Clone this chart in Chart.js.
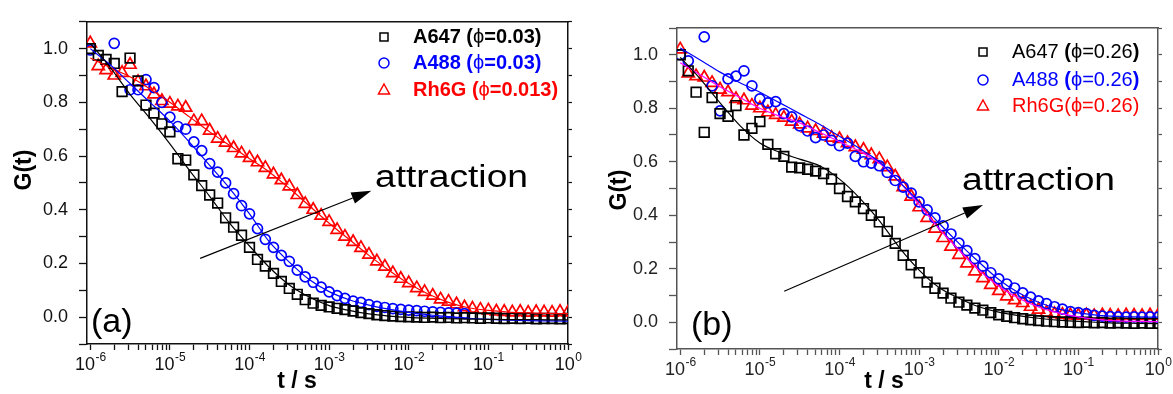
<!DOCTYPE html>
<html lang="en">
<head>
<meta charset="UTF-8">
<title>G(t) - FCS curves</title>
<script src="https://cdn.jsdelivr.net/npm/chart.js"></script>
<style>
  body { margin: 0; background: #fff; }
  #wrap { position: relative; width: 1173px; height: 394px; }
  canvas { position: absolute; top: 0; }
  #chartA { left: 0; }
  #chartB { left: 590px; }
</style>
</head>
<body>
<div id="wrap">
  <canvas id="chartA" width="590" height="394"></canvas>
  <canvas id="chartB" width="583" height="394"></canvas>
</div>
<script>
// lag times of the measured points (s), shared by both panels
const tPoints = [
  1.00e-6, 1.26e-6, 1.58e-6, 2.00e-6, 2.51e-6, 3.16e-6, 3.98e-6, 5.01e-6, 6.31e-6, 7.94e-6,
  1.00e-5, 1.26e-5, 1.58e-5, 2.00e-5, 2.51e-5, 3.16e-5, 3.98e-5, 5.01e-5, 6.31e-5, 7.94e-5,
  1.00e-4, 1.26e-4, 1.58e-4, 2.00e-4, 2.51e-4, 3.16e-4, 3.98e-4, 5.01e-4, 6.31e-4, 7.94e-4,
  1.00e-3, 1.26e-3, 1.58e-3, 2.00e-3, 2.51e-3, 3.16e-3, 3.98e-3, 5.01e-3, 6.31e-3, 7.94e-3,
  1.00e-2, 1.26e-2, 1.58e-2, 2.00e-2, 2.51e-2, 3.16e-2, 3.98e-2, 5.01e-2, 6.31e-2, 7.94e-2,
  1.00e-1, 1.26e-1, 1.58e-1, 2.00e-1, 2.51e-1, 3.16e-1, 3.98e-1, 5.01e-1, 6.31e-1, 7.94e-1,
  1.00
];
// lag times of the fitted curves (s)
const tFit = [
  1.00e-6, 1.78e-6, 3.16e-6, 5.62e-6, 1.00e-5, 1.78e-5, 3.16e-5, 5.62e-5,
  1.00e-4, 1.78e-4, 3.16e-4, 5.62e-4, 1.00e-3, 1.78e-3, 3.16e-3, 5.62e-3,
  1.00e-2, 1.78e-2, 3.16e-2, 5.62e-2, 1.00e-1, 1.78e-1, 3.16e-1, 5.62e-1, 1.00
];

// panel (a)
const a647A = [1.00, 0.975, 0.96, 0.945, 0.84, 0.965, 0.88, 0.79, 0.76, 0.72,
  0.69, 0.59, 0.585, 0.53, 0.49, 0.455, 0.425, 0.37, 0.335, 0.305,
  0.26, 0.215, 0.19, 0.163, 0.133, 0.107, 0.085, 0.065, 0.052, 0.044,
  0.038, 0.033, 0.028, 0.023, 0.017, 0.013, 0.009, 0.006, 0.004, 0.002,
  0.001, 0.0, -0.001, 0.0, -0.002, -0.001, -0.003, -0.002, -0.003, -0.004,
  -0.003, -0.004, -0.005, -0.004, -0.005, -0.004, -0.006, -0.005, -0.005, -0.006,
  -0.005];
const a488A = [0.995, null, null, 1.02, null, 0.847, 0.847, 0.885, 0.855, 0.80,
  0.745, 0.71, 0.70, 0.653, 0.62, 0.572, 0.54, 0.50, 0.46, 0.415,
  0.385, 0.33, 0.29, 0.26, 0.23, 0.208, 0.175, 0.15, 0.13, 0.112,
  0.094, 0.08, 0.07, 0.06, 0.055, 0.047, 0.04, 0.036, 0.032, 0.029,
  0.026, 0.024, 0.022, 0.02, 0.018, 0.016, 0.015, 0.013, null, null,
  null, null, null, null, null, null, null, null, null, null,
  null];
const rh6gA = [1.02, 0.935, 0.92, 0.90, 0.91, 0.94, 0.876, 0.86, 0.83, 0.805,
  0.795, 0.785, 0.78, 0.73, 0.73, 0.695, 0.665, 0.65, 0.63, 0.61,
  0.593, 0.577, 0.556, 0.532, 0.51, 0.487, 0.455, 0.422, 0.40, 0.378,
  0.355, 0.325, 0.30, 0.28, 0.258, 0.233, 0.208, 0.188, 0.164, 0.143,
  0.127, 0.108, 0.094, 0.08, 0.066, 0.058, 0.048, 0.037, 0.032, 0.028,
  0.025, 0.021, 0.02, 0.018, 0.02, 0.017, 0.019, 0.018, 0.017, 0.02,
  0.018];
const fitA647A = [1.02, 0.93, 0.83, 0.74, 0.645, 0.545, 0.45, 0.35, 0.265, 0.185, 0.12, 0.075,
  0.043, 0.025, 0.012, 0.004, -0.001, -0.004, -0.006, -0.007, -0.008, -0.009, -0.009, -0.01, -0.01];
const fitA488A = [1.0, 0.94, 0.87, 0.80, 0.73, 0.65, 0.565, 0.48, 0.385, 0.28, 0.205, 0.14,
  0.095, 0.065, 0.045, 0.03, 0.018, 0.009, 0.002, -0.004, -0.008, -0.011, -0.013, -0.014, -0.015];
const fitRh6gA = [0.965, 0.93, 0.895, 0.85, 0.80, 0.745, 0.69, 0.64, 0.59, 0.54, 0.48, 0.415,
  0.35, 0.29, 0.23, 0.175, 0.125, 0.085, 0.055, 0.035, 0.025, 0.019, 0.016, 0.014, 0.013];

// panel (b)
const a647B = [1.00, 0.94, 0.86, 0.71, 0.84, 0.78, 0.77, 0.81, 0.70, 0.725,
  0.75, 0.665, 0.63, 0.62, 0.58, 0.577, 0.572, 0.565, 0.556, 0.535,
  0.50, 0.47, 0.45, 0.425, 0.40, 0.375, 0.34, 0.295, 0.25, 0.215,
  0.185, 0.15, 0.127, 0.109, 0.09, 0.075, 0.064, 0.053, 0.045, 0.036,
  0.028, 0.022, 0.017, 0.013, 0.009, 0.006, 0.004, 0.002, 0.001, 0.0,
  -0.001, 0.0, -0.002, -0.001, -0.003, -0.002, -0.003, -0.004, -0.003, -0.004,
  -0.004];
const a488B = [1.00, 0.977, null, 1.067, 0.884, 0.79, 0.91, 0.92, 0.94, 0.884,
  0.835, 0.82, 0.825, 0.78, 0.768, 0.734, 0.715, 0.69, 0.70, 0.68,
  0.66, 0.67, 0.62, 0.60, 0.595, 0.585, 0.56, 0.53, 0.505, 0.483,
  0.45, 0.42, 0.39, 0.36, 0.33, 0.296, 0.268, 0.238, 0.21, 0.185,
  0.162, 0.143, 0.128, 0.11, 0.094, 0.08, 0.07, 0.058, 0.049, 0.04,
  0.036, 0.032, 0.026, 0.023, 0.021, 0.02, 0.019, 0.02, 0.019, 0.02,
  0.019];
const rh6gB = [1.02, 0.93, 0.92, 0.915, 0.895, 0.87, 0.86, 0.835, 0.83, 0.81,
  0.80, 0.785, 0.775, 0.765, 0.75, 0.74, 0.725, 0.715, 0.705, 0.69,
  0.685, 0.67, 0.655, 0.645, 0.625, 0.61, 0.58, 0.545, 0.505, 0.47,
  0.43, 0.39, 0.35, 0.315, 0.283, 0.252, 0.22, 0.19, 0.165, 0.14,
  0.117, 0.097, 0.083, 0.072, 0.058, 0.047, 0.036, 0.031, 0.028, 0.026,
  0.025, 0.026, 0.024, 0.026, 0.025, 0.024, 0.026, 0.025, 0.024, 0.026,
  0.025];
const fitA647B = [0.99, 0.91, 0.82, 0.735, 0.67, 0.635, 0.61, 0.585, 0.535, 0.465, 0.38, 0.28,
  0.195, 0.13, 0.09, 0.058, 0.038, 0.025, 0.015, 0.008, 0.003, 0.0, -0.003, -0.004, -0.005];
const fitA488B = [1.025, 0.98, 0.935, 0.895, 0.86, 0.82, 0.78, 0.74, 0.695, 0.65, 0.60, 0.525,
  0.45, 0.37, 0.295, 0.225, 0.16, 0.11, 0.075, 0.05, 0.035, 0.026, 0.022, 0.02, 0.019];
const fitRh6gB = [0.97, 0.925, 0.88, 0.84, 0.80, 0.77, 0.745, 0.71, 0.675, 0.64, 0.595, 0.525,
  0.44, 0.35, 0.27, 0.195, 0.135, 0.09, 0.057, 0.035, 0.02, 0.01, 0.005, 0.003, 0.002];

// axis ticks
const xDecades = [1e-6, 1e-5, 1e-4, 1e-3, 1e-2, 1e-1, 1];
const xTickExps = ['-6', '-5', '-4', '-3', '-2', '-1', '0'];
const xMinorSteps = [1, 2, 3, 4, 5, 6, 7, 8, 9];
const yTickLabels = ['0.0', '0.2', '0.4', '0.6', '0.8', '1.0'];

// legend texts: [text, bold]
const legendA = [
  [['A647 (', true], ['ϕ', false], ['=0.03)', true]],
  [['A488 (', true], ['ϕ', false], ['=0.03)', true]],
  [['Rh6G (', true], ['ϕ', false], ['=0.013)', true]]
];
const legendB = [
  [['A647 ', false], ['(', true], ['ϕ', false], ['=0.26', false], [')', true]],
  [['A488 ', false], ['(', true], ['ϕ', false], ['=0.26', false], [')', true]],
  [['Rh6G(', false], ['ϕ', false], ['=0.26)', false]]
];
// arrow ends: [t, G]
const arrowA = [[2.40e-5, 0.219], [3.39e-3, 0.471]];
const arrowB = [[2.02e-5, 0.116], [6.34e-3, 0.438]];

const FONT = '"Liberation Sans", Arial, sans-serif';
const BLACK = '#000000', BLUE = '#0000ff', RED = '#ff0000', MAGENTA = '#ff00ff';

const xTickValues = [];
xDecades.forEach(d => {
  xMinorSteps.forEach(m => { if (m * d <= 1.0001) xTickValues.push(m * d); });
});

function pts(ts, gs) {
  return ts.map((t, i) => ({ x: t, y: gs[i] }));
}

function drawMarker(ctx, shape, x, y, color) {
  ctx.strokeStyle = color;
  ctx.lineWidth = 1.5;
  ctx.beginPath();
  if (shape === 'rect') {
    ctx.rect(x - 4, y - 4, 8, 8);
  } else if (shape === 'circle') {
    ctx.arc(x, y, 5, 0, Math.PI * 2);
  } else {
    ctx.moveTo(x, y - 6);
    ctx.lineTo(x + 5.5, y + 4);
    ctx.lineTo(x - 5.5, y + 4);
    ctx.closePath();
  }
  ctx.stroke();
}

function drawSegments(ctx, x, y, segs, size, color) {
  let cx = x;
  ctx.fillStyle = color;
  ctx.textAlign = 'left';
  ctx.textBaseline = 'middle';
  segs.forEach(([txt, bold]) => {
    ctx.font = (bold ? 'bold ' : '') + size + 'px ' + FONT;
    ctx.fillText(txt, cx, y);
    cx += ctx.measureText(txt).width;
  });
}

const decor = {
  id: 'decor',
  afterDraw(chart, args, o) {
    const ctx = chart.ctx;
    const xs = chart.scales.x, ys = chart.scales.y;
    ctx.save();

    // x tick labels: 10 with a raised exponent
    const base = chart.chartArea.bottom + 26;
    ctx.fillStyle = o.labelColor;
    ctx.textAlign = 'left';
    ctx.textBaseline = 'alphabetic';
    xDecades.forEach((d, i) => {
      const px = xs.getPixelForValue(d);
      ctx.font = '18px ' + FONT;
      const wb = ctx.measureText('10').width;
      ctx.font = '12px ' + FONT;
      const we = ctx.measureText(xTickExps[i]).width;
      const left = px - (wb + we) / 2;
      ctx.font = '18px ' + FONT;
      ctx.fillText('10', left, base);
      ctx.font = '12px ' + FONT;
      ctx.fillText(xTickExps[i], left + wb + 0.5, base - 9);
    });

    // legend
    const shapes = ['rect', 'circle', 'triangle'];
    const colors = [BLACK, BLUE, RED];
    o.legend.forEach((segs, i) => {
      drawMarker(ctx, shapes[i], o.legendX, o.legendY[i], colors[i]);
      drawSegments(ctx, o.legendTextX, o.legendY[i], segs, 20, colors[i]);
    });

    // arrow
    const x0 = xs.getPixelForValue(o.arrow[0][0]), y0 = ys.getPixelForValue(o.arrow[0][1]);
    const x1 = xs.getPixelForValue(o.arrow[1][0]), y1 = ys.getPixelForValue(o.arrow[1][1]);
    const ang = Math.atan2(y1 - y0, x1 - x0);
    const hl = 20, hw = 6;
    const bx = x1 - hl * Math.cos(ang), by = y1 - hl * Math.sin(ang);
    ctx.strokeStyle = BLACK;
    ctx.fillStyle = BLACK;
    ctx.lineWidth = 1.2;
    ctx.beginPath();
    ctx.moveTo(x0, y0);
    ctx.lineTo(bx, by);
    ctx.stroke();
    ctx.beginPath();
    ctx.moveTo(x1, y1);
    ctx.lineTo(bx + hw * Math.sin(ang), by - hw * Math.cos(ang));
    ctx.lineTo(bx - hw * Math.sin(ang), by + hw * Math.cos(ang));
    ctx.closePath();
    ctx.fill();

    // "attraction", stretched a bit like the figure
    ctx.save();
    ctx.translate(o.attrX, o.attrY);
    ctx.scale(1.2, 1);
    ctx.font = '31px ' + FONT;
    ctx.textAlign = 'left';
    ctx.textBaseline = 'alphabetic';
    ctx.fillText('attraction', 0, 0);
    ctx.restore();

    // panel label
    ctx.font = '34px ' + FONT;
    ctx.textAlign = 'left';
    ctx.textBaseline = 'alphabetic';
    ctx.fillText(o.panel, o.panelX, o.panelY);

    // axis titles
    ctx.font = 'bold 23px ' + FONT;
    ctx.textAlign = 'center';
    ctx.textBaseline = 'middle';
    ctx.fillText('t / s', o.xTitleX, o.xTitleY);
    ctx.save();
    ctx.translate(o.yTitleX, o.yTitleY);
    ctx.rotate(-Math.PI / 2);
    ctx.fillText('G(t)', 0, 0);
    ctx.restore();

    ctx.restore();
  }
};

function makeChart(id, series, fits, extra) {
  const axisColor = extra.axisColor;
  const labelColor = extra.labelColor;
  const datasets = [
    { label: 'fit A647', data: pts(tFit, fits[0]), borderColor: BLACK },
    { label: 'fit A488', data: pts(tFit, fits[1]), borderColor: BLUE },
    { label: 'fit Rh6G', data: pts(tFit, fits[2]), borderColor: extra.redFit }
  ].map(d => Object.assign(d, {
    borderWidth: 1.2, pointRadius: 0, fill: false, cubicInterpolationMode: 'monotone'
  }));
  datasets.push(
    { label: 'A647', data: pts(tPoints, series[0]), pointStyle: 'rect', pointRadius: 6.8, borderColor: BLACK },
    { label: 'A488', data: pts(tPoints, series[1]), pointStyle: 'circle', pointRadius: 5, borderColor: BLUE },
    { label: 'Rh6G', data: pts(tPoints, series[2]), pointStyle: 'triangle', pointRadius: 7, borderColor: RED }
  );
  datasets.slice(3).forEach(d => Object.assign(d, {
    showLine: false, backgroundColor: 'transparent', pointBorderWidth: 1.7
  }));

  return new Chart(document.getElementById(id), {
    type: 'line',
    data: { datasets },
    plugins: [decor],
    options: {
      responsive: false,
      animation: false,
      events: [],
      layout: { padding: 0 },
      plugins: {
        legend: { display: false },
        tooltip: { enabled: false },
        decor: Object.assign({ labelColor }, extra.decor)
      },
      scales: {
        x: {
          type: 'logarithmic',
          min: 9.1e-7,
          max: 1,
          afterBuildTicks: s => { s.ticks = xTickValues.map(v => ({ value: v })); },
          afterFit: s => { s.height = extra.bottom; },
          ticks: {
            autoSkip: false,
            maxRotation: 0,
            callback: () => ''
          },
          grid: { drawOnChartArea: false, tickLength: 6, tickColor: axisColor, tickWidth: 1.3 },
          border: { color: axisColor, width: 1.5 }
        },
        x2: {
          type: 'logarithmic',
          position: 'top',
          min: 9.1e-7,
          max: 1,
          afterFit: s => { s.height = extra.top; },
          ticks: { display: false },
          grid: { drawOnChartArea: false, drawTicks: false },
          border: { color: axisColor, width: 1.5 }
        },
        y: {
          type: 'linear',
          min: -0.1,
          max: 1.1,
          afterFit: s => { s.width = 87; },
          ticks: {
            stepSize: 0.1,
            autoSkip: false,
            padding: 11,
            color: labelColor,
            font: { family: FONT, size: 18 },
            callback: v => {
              const k = Math.round(v * 10);
              return (k >= 0 && k % 2 === 0) ? yTickLabels[k / 2] : '';
            }
          },
          grid: { drawOnChartArea: false, tickLength: 8, tickColor: axisColor, tickWidth: 1.3 },
          border: { color: axisColor, width: 1.5 }
        },
        y2: {
          type: 'linear',
          position: 'right',
          min: -0.1,
          max: 1.1,
          afterFit: s => { s.width = extra.right; },
          ticks: { display: false, stepSize: 0.1 },
          grid: { drawOnChartArea: false, tickLength: 4, tickColor: axisColor, tickWidth: 1.2 },
          border: { color: axisColor, width: 1.5 }
        }
      }
    }
  });
}

makeChart('chartA', [a647A, a488A, rh6gA], [fitA647A, fitA488A, fitRh6gA], {
  axisColor: '#111', labelColor: '#111', redFit: RED,
  top: 15, bottom: 50, right: 22,
  decor: {
    legend: legendA, legendX: 384, legendTextX: 413, legendY: [37, 63, 90],
    arrow: arrowA, attrX: 375, attrY: 187,
    panel: '(a)', panelX: 91, panelY: 332,
    xTitleX: 297, xTitleY: 382, yTitleX: 25, yTitleY: 170
  }
});

makeChart('chartB', [a647B, a488B, rh6gB], [fitA647B, fitA488B, fitRh6gB], {
  axisColor: '#555', labelColor: '#222', redFit: MAGENTA,
  top: 28, bottom: 45, right: 15,
  decor: {
    legend: legendB, legendX: 393, legendTextX: 422, legendY: [52, 80, 106],
    arrow: arrowB, attrX: 372, attrY: 190,
    panel: '(b)', panelX: 101, panelY: 335,
    xTitleX: 294, xTitleY: 382, yTitleX: 30, yTitleY: 190
  }
});
</script>
</body>
</html>
